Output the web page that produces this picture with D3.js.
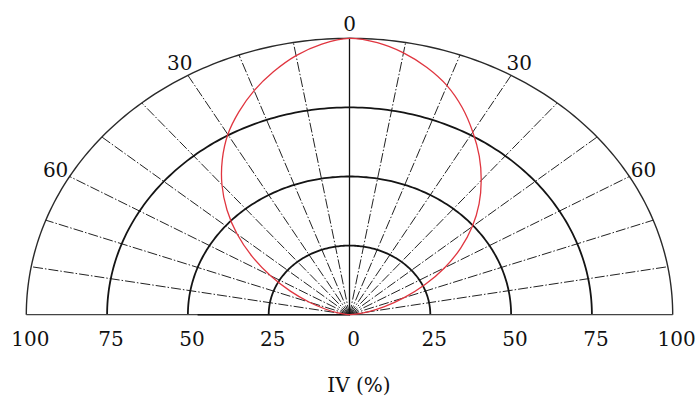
<!DOCTYPE html>
<html>
<head>
<meta charset="utf-8">
<script src="https://cdn.jsdelivr.net/npm/d3@7"></script>
<style>
  body { margin: 0; background: #fff; }
  text { font-family: "DejaVu Serif", "Liberation Serif", serif; fill: #111; }
</style>
</head>
<body>
<div id="chart"></div>
<script>
// angle in degrees from the vertical axis (negative = left), value in % of IV
var angles = [-90, -85, -80, -75, -70, -65, -60, -55, -50, -45, -40, -35, -30, -25, -20, -15, -10, -5,
              0, 5, 10, 15, 20, 25, 30, 35, 40, 45, 50, 55, 60, 65, 70, 75, 80, 85, 90];
var intensity = [0, 1.1, 3.6, 7.6, 13.2, 20.2, 28.2, 36.8, 45.4, 53.6, 61.4, 68.6, 75.3, 81.0, 86.3, 91.0, 95.2, 98.3,
                 100, 98.8, 96.2, 92.6, 88.2, 82.6, 76.3, 70.0, 63.4, 56.7, 49.6, 42.0, 34.0, 25.8, 18.0, 11.2, 5.8, 2.0, 0];
var ringValues = [25, 50, 75, 100];
var spokeAngles = [-80, -70, -60, -50, -40, -30, -20, -10, 10, 20, 30, 40, 50, 60, 70, 80];
var angleLabels = [-60, -30, 0, 30, 60];
var radiusTicks = [-100, -75, -50, -25, 0, 25, 50, 75, 100];
var axisTitle = "IV (%)";

function init(){
	var w = 697;
	var h = 396;

	var xScale = d3.scaleLinear().domain([-100, 100]).range([26.3, 672.7]);
	var yScale = d3.scaleLinear().domain([0, 100]).range([314.7, 38.3]);

	function px(r, a){ return xScale(r * Math.sin(a * Math.PI / 180)); }
	function py(r, a){ return yScale(r * Math.cos(a * Math.PI / 180)); }

	var svg = d3.select("#chart")
				.append("svg")
				.attr("width", w)
				.attr("height", h);

	var arcAngles = d3.range(-90, 90.5, 1);

	// spokes
	svg.selectAll("line.spoke")
		.data(spokeAngles)
		.enter()
		.append("line")
		.attr("class", "spoke")
		.attr("x1", xScale(0))
		.attr("y1", yScale(0))
		.attr("x2", function(d){ return px(100, d); })
		.attr("y2", function(d){ return py(100, d); })
		.attr("stroke", "#222")
		.attr("stroke-width", 1)
		.attr("stroke-dasharray", "10,2,1.5,2");

	// rings
	ringValues.forEach(function(r){
		var ring = d3.line()
			.x(function(a){ return px(r, a); })
			.y(function(a){ return py(r, a); });
		svg.append("path")
			.attr("d", ring(arcAngles))
			.attr("fill", "none")
			.attr("stroke", r == 100 ? "#2a2a2a" : "#141414")
			.attr("stroke-width", r == 100 ? 1.4 : 1.8);
	});

	// baseline and vertical axis
	svg.append("line")
		.attr("x1", xScale(-100)).attr("x2", xScale(100))
		.attr("y1", yScale(0)).attr("y2", yScale(0))
		.attr("stroke", "#444").attr("stroke-width", 1.3);
	svg.append("line")
		.attr("x1", xScale(-47)).attr("x2", xScale(0))
		.attr("y1", yScale(0)).attr("y2", yScale(0))
		.attr("stroke", "#111").attr("stroke-width", 1.6);
	svg.append("line")
		.attr("x1", xScale(0)).attr("x2", xScale(0))
		.attr("y1", yScale(0)).attr("y2", yScale(100))
		.attr("stroke", "#111").attr("stroke-width", 1.3);

	// intensity curve
	var curve = d3.line()
		.x(function(d, i){ return px(intensity[i], angles[i]); })
		.y(function(d, i){ return py(intensity[i], angles[i]); })
		.curve(d3.curveCatmullRom);

	svg.append("path")
		.attr("d", curve(angles))
		.attr("fill", "none")
		.attr("stroke", "#e0353f")
		.attr("stroke-width", 1.3);

	// angle labels
	svg.selectAll("text.ang")
		.data(angleLabels)
		.enter()
		.append("text")
		.attr("class", "ang")
		.text(function(d){ return Math.abs(d); })
		.attr("x", function(d){ return px(105, d); })
		.attr("y", function(d){ return py(105, d) + 7; })
		.attr("text-anchor", "middle")
		.attr("font-size", "20");

	// radius tick labels
	svg.selectAll("text.rad")
		.data(radiusTicks)
		.enter()
		.append("text")
		.attr("class", "rad")
		.text(function(d){ return Math.abs(d); })
		.attr("x", function(d){ return xScale(d) + 4; })
		.attr("y", 346)
		.attr("text-anchor", "middle")
		.attr("font-size", "20");

	svg.append("text")
		.text(axisTitle)
		.attr("x", 359)
		.attr("y", 392)
		.attr("text-anchor", "middle")
		.attr("font-size", "20");
}

window.onload = init;
</script>
</body>
</html>
